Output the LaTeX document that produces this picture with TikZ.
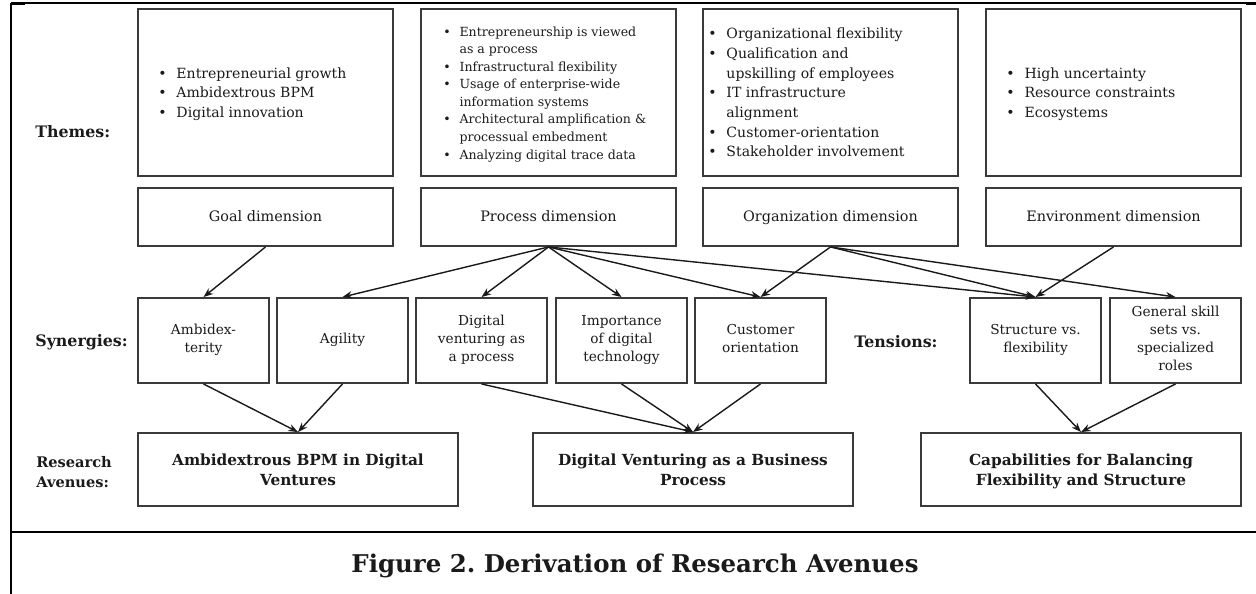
\documentclass[tikz,border=0pt]{standalone}
\usepackage{fontspec}
\setmainfont{DejaVu Serif}
\usepackage{tikz}
\usetikzlibrary{arrows.meta}
\frenchspacing
\definecolor{boxgray}{HTML}{3A3A3A}
\definecolor{ink}{HTML}{1A1A1A}
\tikzset{every node/.append style={text=ink}}
\tikzset{
    frame/.style={draw=boxgray, line width=1.1pt, inner sep=0pt},
    themebox/.style={frame, minimum width=5.1cm, minimum height=3.34cm},
    dimbox/.style={frame, minimum width=5.1cm, minimum height=1.16cm, text height=0.75em, text depth=0.25em, font=\fontsize{8.2}{10}\selectfont},
    synbox/.style={frame, minimum width=2.62cm, minimum height=1.7cm, align=center, text depth=0.25em, font=\fontsize{7.8}{10.3}\selectfont},
    avenue/.style={frame, minimum width=6.4cm, minimum height=1.46cm, align=center, text depth=-0.2em, font=\bfseries\fontsize{8.7}{11.3}\selectfont},
    rowlabel/.style={anchor=west, inner sep=0pt, align=left, font=\bfseries\fontsize{9}{11.3}\selectfont},
    items/.style={anchor=west, inner sep=0pt, font=\fontsize{8}{11.2}\selectfont},
    link/.style={-{Stealth[length=5.5pt,width=4.2pt]}, draw=ink, line width=0.8pt},
}
\newcommand{\bullets}[1]{\begin{tabular}{@{}l@{\hspace{0.7em}}l@{}}#1\end{tabular}}

\begin{document}
\begin{tikzpicture}[x=0.02cm, y=-0.02cm]
    \useasboundingbox (0,0) rectangle (1256,594);
    % outer frame and caption rule
    \draw[line width=0.75pt] (11,3) -- (1256,3);
    \draw[line width=1.4pt] (11,3.5) -- (25,3.5);
    \draw[line width=1.4pt] (1246,3.5) -- (1256,3.5);
    \draw[line width=1.3pt] (11,3) -- (11,594);
    \draw[line width=1.15pt] (11,532) -- (1256,532);

    % row labels
    \node[rowlabel] (lthemes) at (35,132) {Themes:};
    \node[rowlabel] (lsyn) at (35,342) {Synergies:};
    \node[rowlabel] (lten) at (854,342) {Tensions:};
    \node[rowlabel, font=\bfseries\fontsize{8.3}{11.3}\selectfont] (lra) at (36,472) {Research\\Avenues:};

    % themes
    \node[themebox] (t1) at (265.5,92.5) {};
    \node[themebox] (t2) at (548.5,92.5) {};
    \node[themebox] (t3) at (830.5,92.5) {};
    \node[themebox] (t4) at (1113.5,92.5) {};
    \node[items] (i1) at (158,94) {\bullets{
        \textbullet & Entrepreneurial growth\\
        \textbullet & Ambidextrous BPM\\
        \textbullet & Digital innovation}};
    \node[items, font=\fontsize{7.15}{10}\selectfont] (i2) at (443,94) {\bullets{
        \textbullet & Entrepreneurship is viewed\\
                    & as a process\\
        \textbullet & Infrastructural flexibility\\
        \textbullet & Usage of enterprise-wide\\
                    & information systems\\
        \textbullet & Architectural amplification \&\\
                    & processual embedment\\
        \textbullet & Analyzing digital trace data}};
    \node[items] (i3) at (708,94) {\bullets{
        \textbullet & Organizational flexibility\\
        \textbullet & Qualification and\\
                    & upskilling of employees\\
        \textbullet & IT infrastructure\\
                    & alignment\\
        \textbullet & Customer-orientation\\
        \textbullet & Stakeholder involvement}};
    \node[items] (i4) at (1006,94) {\bullets{
        \textbullet & High uncertainty\\
        \textbullet & Resource constraints\\
        \textbullet & Ecosystems}};

    % dimensions
    \node[dimbox] (goal) at (265.5,217) {Goal dimension};
    \node[dimbox] (proc) at (548.5,217) {Process dimension};
    \node[dimbox] (org) at (830.5,217) {Organization dimension};
    \node[dimbox] (env) at (1113.5,217) {Environment dimension};

    % synergies and tensions
    \node[synbox] (amb) at (203.5,340.5) {Ambidex-\\terity};
    \node[synbox] (agi) at (342.5,340.5) {Agility};
    \node[synbox] (dvp) at (481.5,340.5) {Digital\\venturing as\\a process};
    \node[synbox] (imp) at (621.5,340.5) {Importance\\of digital\\technology};
    \node[synbox] (cus) at (760.5,340.5) {Customer\\orientation};
    \node[synbox] (str) at (1035.5,340.5) {Structure vs.\\flexibility};
    \node[synbox] (gen) at (1175.5,340.5) {General skill\\sets vs.\\specialized\\roles};

    % research avenues
    \node[avenue] (ra1) at (298,469.5) {Ambidextrous BPM in Digital\\Ventures};
    \node[avenue] (ra2) at (693,469.5) {Digital Venturing as a Business\\Process};
    \node[avenue] (ra3) at (1081,469.5) {Capabilities for Balancing\\Flexibility and Structure};

    \foreach \a/\b in {goal/amb, proc/agi, proc/dvp, proc/imp, proc/cus, proc/str,
                       org/cus, org/str, org/gen, env/str,
                       amb/ra1, agi/ra1, dvp/ra2, imp/ra2, cus/ra2, str/ra3, gen/ra3}
        \draw[link] (\a.south) -- (\b.north);

    \node[font=\bfseries\fontsize{13.9}{16}\selectfont] (cap) at (635,566) {Figure 2. Derivation of Research Avenues};
\end{tikzpicture}
\end{document}
